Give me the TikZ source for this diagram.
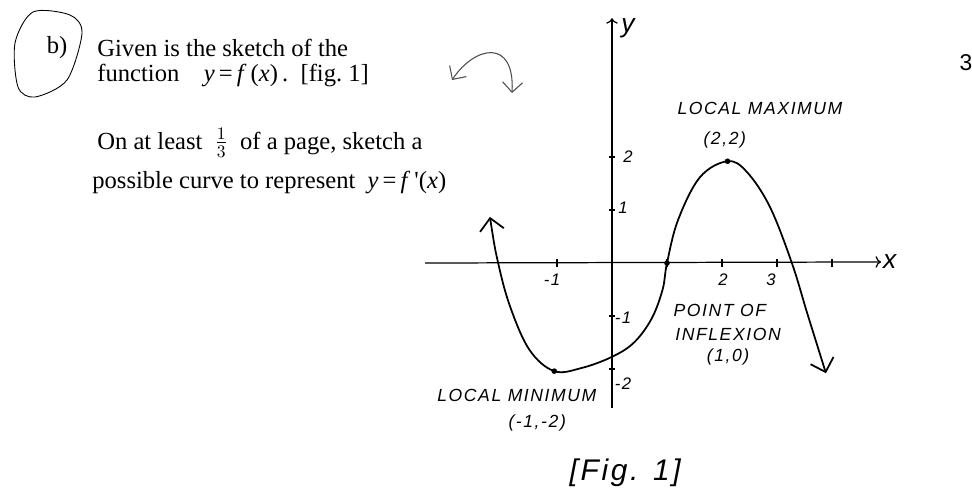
\documentclass[tikz,border=0pt]{standalone}
\usepackage{fontspec}
\setmainfont{Liberation Serif}
\newfontfamily\handfont[LetterSpace=9]{Liberation Sans}
\newfontfamily\pagefont{Liberation Sans}
\usetikzlibrary{arrows.meta}

\tikzset{
  printed/.style={anchor=base west, inner sep=0pt, font=\fontsize{14}{16}\selectfont},
  hand/.style={inner sep=1pt, font=\handfont\itshape\fontsize{10}{12}\selectfont},
  ticklbl/.style={inner sep=1pt, font=\handfont\itshape\fontsize{9.5}{11}\selectfont},
  axislbl/.style={inner sep=1pt, font=\handfont\itshape\fontsize{15}{17}\selectfont},
  axisline/.style={line width=0.7pt},
  curveline/.style={line width=1pt, {Straight Barb[length=2.4mm]}-{Straight Barb[length=2.4mm]}}
}

\begin{document}
\begin{tikzpicture}
\useasboundingbox (0,0) rectangle (19.44,9.86);

% question
\draw[line width=0.5pt] plot[smooth cycle] coordinates {(0.66,9.62) (1.40,9.56) (1.64,9.20) (1.34,8.26) (0.70,7.92) (0.36,8.12) (0.30,9.0)};
\node[font=\fontsize{14}{16}\selectfont] (part) at (1.14,8.90) {b)};
\node[printed] (given) at (1.94,8.74) {Given is the sketch of the};
\node[printed] (func) at (1.94,8.24) {function\quad \textit{y}\,=\,\textit{f}\,(\textit{x})\,.\ \ [fig.~1]};
\node[printed] (task) at (1.94,6.88) {On at least\ \ $\frac{1}{3}$\ \ of a page, sketch a};
\node[printed] (task2) at (1.84,6.10) {possible curve to represent\ \ \textit{y}\,=\,\textit{f}\,\textquotesingle(\textit{x})};
\node[font=\pagefont\fontsize{13}{15}\selectfont] (pagenum) at (19.32,8.60) {3};

% scribble
\draw[line width=0.6pt, gray!60!black, {Straight Barb[length=2mm]}-{Straight Barb[length=2mm]}]
  (9.04,8.26) .. controls (9.5,8.95) and (10.3,9.1) .. (10.24,8.0);

% graph of f
\begin{scope}[shift={(12.24,4.60)}, x=1.1cm, y=1.06cm]
\coordinate (xstart) at (-3.4,0);
\coordinate (ybot) at (0,-2.74);
\coordinate (ytop) at (0,4.62);
\node[axislbl] (xlab) at (5.05,0.02) {x};
\node[axislbl] (ylab) at (0.29,4.43) {y};
\draw[axisline, ->] (xstart) -- (xlab);
\draw[axisline, ->] (ybot) -- (ytop);
\foreach \t in {-1,1,2,3,4}
  \draw[line width=0.6pt] (\t,-0.08) -- (\t,0.08);
\foreach \t in {-2,-1,1,2}
  \draw[line width=0.6pt] (-0.06,\t) -- (0.06,\t);

\node[ticklbl] (xm1) at (-1.09,-0.32) {-1};
\node[ticklbl] (x2) at (2.02,-0.32) {2};
\node[ticklbl] (x3) at (2.89,-0.32) {3};
\node[ticklbl] (y2) at (0.29,2.0) {2};
\node[ticklbl] (y1) at (0.2,1.04) {1};
\node[ticklbl] (ym1) at (0.2,-1.04) {-1};
\node[ticklbl] (ym2) at (0.2,-2.28) {-2};

\coordinate (locmin) at (-1.05,-2.04);
\coordinate (infl) at (1,0);
\coordinate (locmax) at (2.1,1.92);
\draw[curveline] plot[smooth, tension=0.6] coordinates {(-2.22,0.87) (-2.07,0) (-1.85,-0.83) (-1.5,-1.64) (locmin) (-0.55,-1.98) (0,-1.77) (0.4,-1.5) (0.72,-1.05) (0.92,-0.5) (infl) (1.2,0.81) (1.6,1.62) (locmax) (2.45,1.72) (2.87,1.06) (3.27,0) (3.55,-0.95) (3.89,-2.08)};
\fill (locmin) circle (1.6pt);
\fill (infl) circle (1.6pt);
\fill (locmax) circle (1.6pt);

\node[hand] (maxlbl) at (2.69,2.92) {LOCAL MAXIMUM};
\node[hand] (maxpt) at (2.05,2.32) {(2,2)};
\node[hand] (infllbl) at (1.96,-0.89) {POINT OF};
\node[hand] (infllbl2) at (2.11,-1.34) {INFLEXION};
\node[hand] (inflpt) at (2.11,-1.77) {(1,0)};
\node[hand] (minlbl) at (-1.73,-2.49) {LOCAL MINIMUM};
\node[hand] (minpt) at (-1.36,-3.02) {(-1,-2)};
\node[hand, font=\handfont\itshape\fontsize{17}{20}\selectfont] (figlbl) at (0.24,-3.96) {[Fig. 1]};
\end{scope}
\end{tikzpicture}
\end{document}
